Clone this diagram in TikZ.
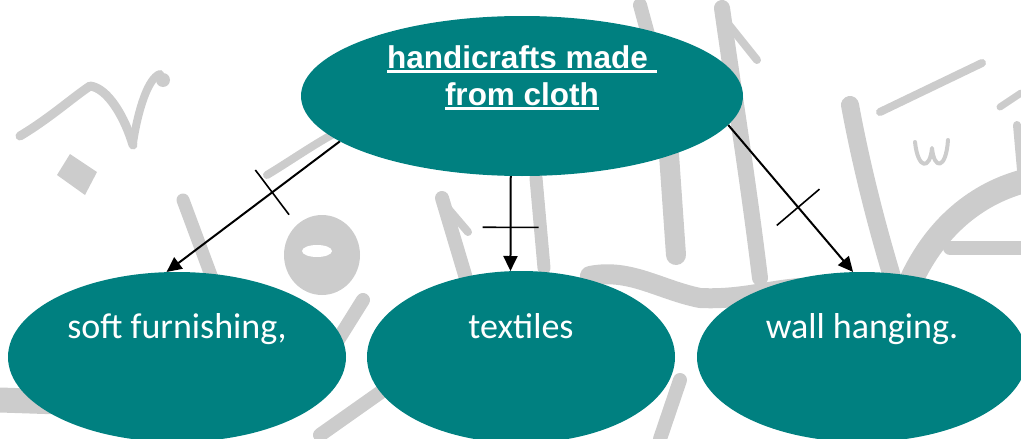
\documentclass[tikz,border=0pt]{standalone}
\usepackage{fontspec}
\setmainfont{Carlito}
\newfontfamily\arialfont{Liberation Sans}
\usetikzlibrary{shapes.geometric,arrows.meta,decorations.markings}
\definecolor{tealfill}{HTML}{008080}
\definecolor{wmgray}{HTML}{CCCCCC}
\newcommand\ulw[1]{\setbox0\hbox{#1}\rlap{\rule[-4.5pt]{\wd0}{2.4pt}}\box0}
\tikzset{
  wm/.style={draw=wmgray, line cap=round, line join=round},
  wmf/.style={fill=wmgray},
  blob/.style={ellipse, fill=tealfill, inner sep=0pt},
  bottxt/.style={font=\fontsize{36}{40}\selectfont, text=white, anchor=base, inner sep=0pt},
  toptxt/.style={font=\arialfont\bfseries\fontsize{31.5}{36}\selectfont, text=white, anchor=base, inner sep=0pt},
  conn/.style={line width=2pt, -{Triangle[length=15pt,width=14pt]}},
  tickmark/.style={postaction={decorate}, decoration={markings, mark=at position #1 with {\draw[-, line width=1.6pt] (0pt,-28pt) -- (0pt,28pt);}}}
}
\begin{document}
\begin{tikzpicture}[x=1pt,y=-1pt]
\useasboundingbox (0,0) rectangle (1021,439);
\clip (0,0) rectangle (1021,439);
% watermark
\draw[wm, line width=9pt] (20,136) .. controls (50,118) and (72,98) .. (90,86) .. controls (108,88) and (125,118) .. (133,145);
\draw[wm, line width=8pt] (133,143) .. controls (138,110) and (148,78) .. (160,74);
\fill[wmf] (163,80) circle (7);
\fill[wmf] (57,175) -- (70,154) -- (97,172) -- (85,195) -- cycle;
\draw[wm, line width=13pt] (183,200) -- (212,278);
\draw[wm, line width=8pt] (267,175) .. controls (295,158) and (320,140) .. (345,128);
\fill[wmf] (322,255) ellipse [x radius=38, y radius=40];
\fill[white] (317,251) ellipse [x radius=15, y radius=6];
\draw[wm, line width=14pt] (363,300) -- (338,340);
\draw[wm, line width=14pt] (405,375) -- (320,435);
\draw[wm, line width=25pt] (0,400) -- (60,402);
\draw[wm, line width=14pt] (442,198) -- (468,285);
\draw[wm, line width=8pt] (445,205) -- (468,232);
\draw[wm, line width=13pt] (536,178) -- (544,268);
\draw[wm, line width=20pt] (668,140) -- (676,255);
\draw[wm, line width=20pt] (590,276) .. controls (630,268) and (660,290) .. (700,298) .. controls (740,300) and (770,290) .. (800,288);
\draw[wm, line width=14pt] (640,5) -- (655,60);
\draw[wm, line width=16pt] (722,8) .. controls (735,100) and (748,180) .. (760,278);
\draw[wm, line width=8pt] (725,20) -- (757,60);
\draw[wm, line width=14pt] (680,380) -- (660,439);
\draw[wm, line width=18pt] (850,105) .. controls (862,170) and (878,230) .. (893,280);
\draw[wm, line width=8pt] (880,112) -- (982,63);
\draw[wm, line width=7pt] (1000,107) -- (1021,93);
\draw[wm, line width=4pt] (915,142) .. controls (918,170) and (930,170) .. (932,148) .. controls (934,170) and (946,170) .. (948,140);
\draw[wm, line width=24pt] (905,295) .. controls (930,230) and (975,195) .. (1021,182);
\draw[wm, line width=14pt] (950,248) -- (1021,248);
\draw[wm, line width=8pt] (1017,125) -- (1021,170);
% nodes
\node[blob, minimum width=442pt, minimum height=160pt] (top) at (522,96) {};
\node[blob, minimum width=338pt, minimum height=170pt] (lf) at (177,357) {};
\node[blob, minimum width=308pt, minimum height=172pt] (md) at (521,357) {};
\node[blob, minimum width=330pt, minimum height=170pt] (rt) at (862,357) {};
% texts
\node[toptxt] (t1) at ([yshift=28pt]top.center) {\ulw{handicrafts made\ }};
\node[toptxt] (t2) at ([yshift=-9pt]top.center) {\ulw{from cloth}};
\node[bottxt] (lt) at ([yshift=19pt]lf.center) {soft furnishing,};
\node[bottxt] (mt) at ([yshift=19pt]md.center) {textiles};
\node[bottxt] (rtt) at ([yshift=19pt]rt.center) {wall hanging.};
% connectors
\draw[conn, tickmark=0.39] (top.194) -- (lf.97);
\draw[conn, tickmark=0.54] (top.262) -- (md.97);
\draw[conn, tickmark=0.56] (top.352) -- (rt.96);
\end{tikzpicture}
\end{document}
